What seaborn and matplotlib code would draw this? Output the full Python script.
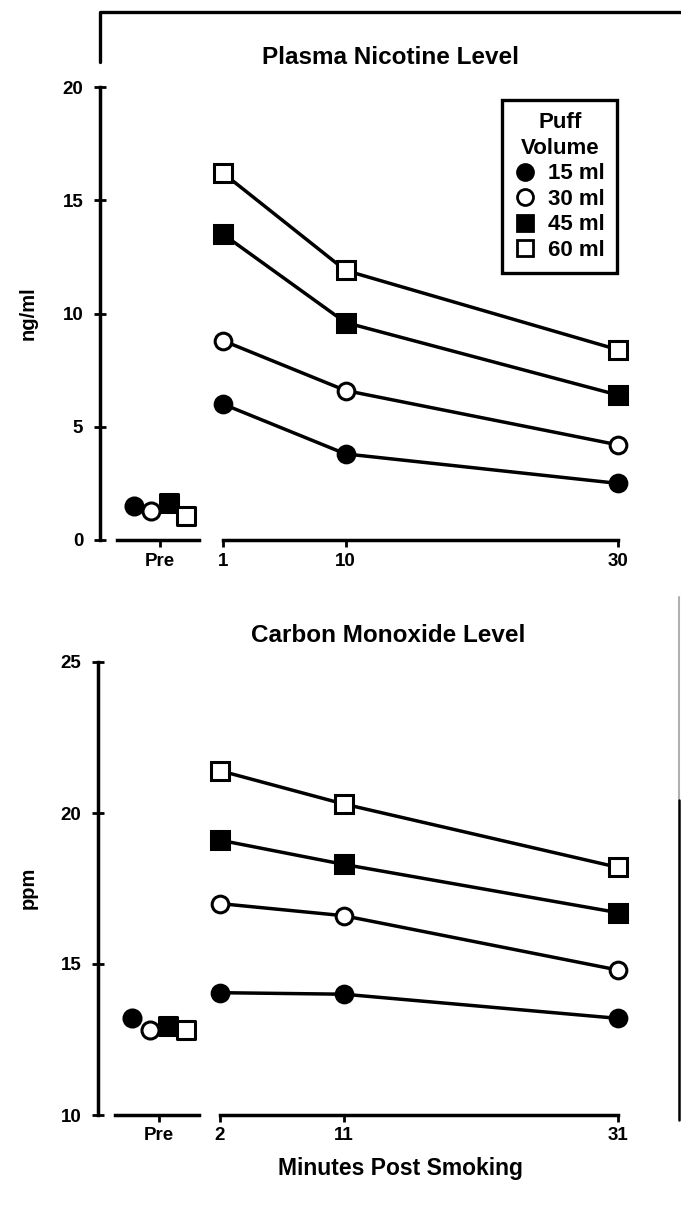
import numpy as np
import pandas as pd
import seaborn as sns
import matplotlib
matplotlib.use("Agg")
import matplotlib.pyplot as plt
from matplotlib.lines import Line2D

volumes = ["15 ml", "30 ml", "45 ml", "60 ml"]

nic_minutes = [1, 10, 30]
nic_15 = [6.0, 3.8, 2.5]
nic_30 = [8.8, 6.6, 4.2]
nic_45 = [13.5, 9.6, 6.4]
nic_60 = [16.2, 11.9, 8.4]
nic_pre = [1.5, 1.3, 1.65, 1.05]

co_minutes = [2, 11, 31]
co_15 = [14.05, 14.0, 13.2]
co_30 = [17.0, 16.6, 14.8]
co_45 = [19.1, 18.3, 16.7]
co_60 = [21.4, 20.3, 18.2]
co_pre = [13.2, 12.8, 12.95, 12.8]

nic_ticks = [0, 5, 10, 15, 20]
co_ticks = [10, 15, 20, 25]

# marker style per puff volume: (marker, face)
styles = {"15 ml": ("o", "black"), "30 ml": ("o", "white"),
          "45 ml": ("s", "black"), "60 ml": ("s", "white")}

def long_frame(minutes, series):
    rows = []
    for vol, vals in zip(volumes, series):
        for m, v in zip(minutes, vals):
            rows.append((vol, m, v))
    return pd.DataFrame(rows, columns=["volume", "minute", "value"])

nic = long_frame(nic_minutes, [nic_15, nic_30, nic_45, nic_60])
co = long_frame(co_minutes, [co_15, co_30, co_45, co_60])

sns.set_theme(style="ticks")
plt.rcParams["font.family"] = ["Liberation Sans", "DejaVu Sans"]
plt.rcParams["font.weight"] = "bold"
for k in ["text.color", "axes.labelcolor", "xtick.color", "ytick.color", "axes.edgecolor"]:
    plt.rcParams[k] = "black"

W, H = 681, 1205
fig = plt.figure(figsize=(W / 100, H / 100), dpi=100)

def px(x0, y0, x1, y1):
    # pixel box -> figure fraction rect
    return [x0 / W, 1 - y1 / H, (x1 - x0) / W, (y1 - y0) / H]

LW = 2.5
TICK_FS = 13.5

def style_pre(ax, ticks, ylim):
    ax.set_xlim(0, 100)
    ax.set_ylim(*ylim)
    ax.set_yticks(ticks)
    ax.set_xticks([60])
    ax.set_xticklabels(["Pre"])
    for s in ["top", "right"]:
        ax.spines[s].set_visible(False)
    ax.spines["left"].set_linewidth(LW)
    ax.spines["bottom"].set_linewidth(LW)
    ax.spines["bottom"].set_bounds(17, 99)
    ax.tick_params(axis="y", direction="inout", length=8, width=2, pad=8, labelsize=TICK_FS)
    ax.tick_params(axis="x", direction="out", length=5, width=2, pad=4, labelsize=TICK_FS)
    ax.set_xlabel("")
    ax.set_ylabel("")

def style_time(ax, minutes, ylim):
    ax.set_xlim(minutes[0], minutes[-1])
    ax.set_ylim(*ylim)
    ax.set_xticks(minutes)
    ax.set_yticks([])
    for s in ["top", "right", "left"]:
        ax.spines[s].set_visible(False)
    ax.spines["bottom"].set_linewidth(LW)
    ax.tick_params(axis="x", direction="out", length=5, width=2, pad=4, labelsize=TICK_FS)
    ax.set_xlabel("")
    ax.set_ylabel("")

def draw_panel(df, pre_vals, pre_box, time_box, ticks, ylim):
    ax_pre = fig.add_axes(pre_box)
    ax_t = fig.add_axes(time_box)
    for i, vol in enumerate(volumes):
        mk, face = styles[vol]
        sub = df[df.volume == vol]
        sns.lineplot(data=sub, x="minute", y="value", ax=ax_t, color="black",
                     linewidth=LW, marker=mk, markersize=12.5 if mk == "s" else 12,
                     markerfacecolor=face, markeredgecolor="black",
                     markeredgewidth=2.2, clip_on=False, legend=False)
        sns.scatterplot(x=[60 + (i - 1.5) * 17.5], y=[pre_vals[i]], ax=ax_pre,
                        marker=mk, s=160 if mk == "s" else 150, color=face,
                        edgecolor="black", linewidth=2.2, clip_on=False, legend=False,
                        zorder=3 + (i % 2))
    style_pre(ax_pre, ticks, ylim)
    style_time(ax_t, sorted(df.minute.unique()), ylim)
    return ax_pre, ax_t

pre1, t1 = draw_panel(nic, nic_pre, px(100, 87, 200, 540), px(223, 87, 618, 540),
                      nic_ticks, (0, 20))
pre2, t2 = draw_panel(co, co_pre, px(98, 662, 200, 1115), px(220, 662, 618, 1115),
                      co_ticks, (10, 25))

# legend
handles = [Line2D([], [], linestyle="", marker=styles[v][0], markersize=11.5,
                  markerfacecolor=styles[v][1], markeredgecolor="black",
                  markeredgewidth=2) for v in volumes]
leg = t1.legend(handles, volumes, title="Puff\nVolume", loc="upper right",
                bbox_to_anchor=(617 / W, 1 - 100 / H), bbox_transform=fig.transFigure,
                borderaxespad=0, fontsize=16, title_fontsize=16, frameon=True,
                framealpha=1, fancybox=False, handlelength=0.9, handletextpad=0.6,
                labelspacing=0.2, borderpad=0.55)
leg.get_frame().set_edgecolor("black")
leg.get_frame().set_linewidth(2.4)
leg.get_title().set_fontweight("bold")
leg.get_title().set_multialignment("center")
leg.get_title().set_linespacing(1.3)

# titles and labels
fig.text(390 / W, 1 - 58 / H, "Plasma Nicotine Level", ha="center", va="center",
         fontsize=17.5, fontweight="bold")
fig.text(388 / W, 1 - 636 / H, "Carbon Monoxide Level", ha="center", va="center",
         fontsize=17.5, fontweight="bold")
fig.text(28 / W, 1 - 313 / H, "ng/ml", rotation=90, ha="center", va="center",
         fontsize=14.5, fontweight="bold")
fig.text(28 / W, 1 - 888 / H, "ppm", rotation=90, ha="center", va="center",
         fontsize=14.5, fontweight="bold")
fig.text(400 / W, 1 - 1168 / H, "Minutes Post Smoking", ha="center", va="center",
         fontsize=16.5, fontweight="bold")

# scanned page frame remnants
fig.add_artist(Line2D([100 / W, 100 / W, 1.0], [1 - 62 / H, 1 - 12 / H, 1 - 12 / H],
                      color="black", linewidth=2.4, transform=fig.transFigure))
fig.add_artist(Line2D([679 / W, 679 / W], [1 - 597 / H, 1 - 800 / H],
                      color="#b0b0b0", linewidth=1.5, transform=fig.transFigure))
fig.add_artist(Line2D([679 / W, 679 / W], [1 - 800 / H, 1 - 1120 / H],
                      color="black", linewidth=1.8, transform=fig.transFigure))

fig.savefig("out.png", dpi=100)
